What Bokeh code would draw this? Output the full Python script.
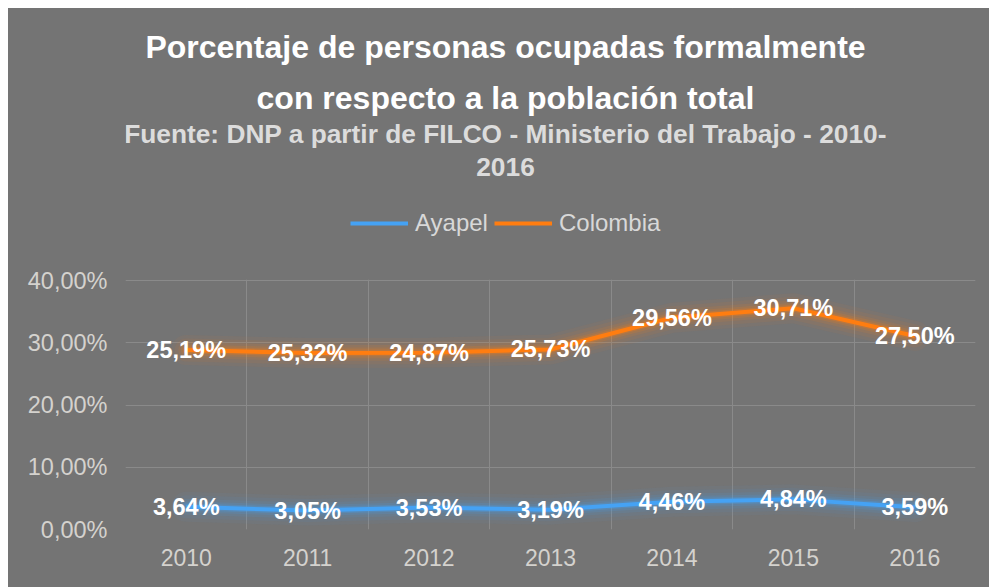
from bokeh.plotting import figure
from bokeh.models import (ColumnDataSource, Range1d, FactorRange, FixedTicker, Label,
                          Legend, LegendItem, CustomJSTickFormatter, BoxAnnotation)
from bokeh.core.properties import value
from bokeh.embed import file_html
from bokeh.resources import INLINE

# ---- data ----
years = ["2010", "2011", "2012", "2013", "2014", "2015", "2016"]
ayapel = [3.64, 3.05, 3.53, 3.19, 4.46, 4.84, 3.59]          # %
colombia = [25.19, 25.32, 24.87, 25.73, 29.56, 30.71, 27.50]  # %
y_ticks = [0.0, 0.10, 0.20, 0.30, 0.40]

title_1 = "Porcentaje de personas ocupadas formalmente"
title_2 = "con respecto a la población total"
sub_1 = "Fuente: DNP a partir de FILCO - Ministerio del Trabajo - 2010-"
sub_2 = "2016"
series_names = ["Ayapel", "Colombia"]

# ---- styles / layout ----
BG = "#747474"
GRID = "#8a8a8a"
TICK = "#d4d2ce"
BLUE = "#45a2f4"
ORANGE = "#ff7d10"
FONT = "Liberation Sans"
W, H = 981, 579
ML, MR, MB = 117, 14, 58
FRAME_H = H - MB          # frame reaches the top of the canvas (titles live inside it)
PLOT_H = 249              # pixel height of the 0..40% value area
Y_TOP = y_ticks[-1] * FRAME_H / PLOT_H


def fmt(v):
    return f"{v:.2f}".replace(".", ",") + "%"


# stacked line chart: Colombia is drawn on top of Ayapel
ay_frac = [a / 100 for a in ayapel]
co_stack = [(a + c) / 100 for a, c in zip(ayapel, colombia)]

src_ay = ColumnDataSource(dict(x=years, y=ay_frac, lab=[fmt(v) for v in ayapel]))
src_co = ColumnDataSource(dict(x=years, y=co_stack, lab=[fmt(v) for v in colombia]))

p = figure(width=W, height=H, x_range=FactorRange(*years), y_range=Range1d(0, Y_TOP),
           output_backend="svg", toolbar_location=None, margin=(8, 0, 0, 8),
           min_border_left=ML, min_border_right=MR, min_border_top=0, min_border_bottom=MB,
           styles={"background-color": BG})
p.background_fill_color = BG
p.border_fill_color = BG
p.outline_line_color = None

p.ygrid.ticker = FixedTicker(ticks=y_ticks[1:])
p.ygrid.grid_line_color = GRID
p.xgrid.ticker = FixedTicker(ticks=list(range(len(years) + 1)))
p.xgrid.grid_line_color = GRID
# hide the category grid lines above the value area (title region)
p.add_layout(BoxAnnotation(bottom=y_ticks[-1] * 1.003, fill_color=BG, fill_alpha=1,
                           line_color=None, level="underlay"))

p.yaxis.ticker = FixedTicker(ticks=y_ticks)
p.yaxis.formatter = CustomJSTickFormatter(
    code="return (tick*100).toFixed(2).replace('.', ',') + '%';")
for ax in (p.xaxis, p.yaxis):
    ax.axis_line_color = None
    ax.major_tick_line_color = None
    ax.minor_tick_line_color = None
    ax.major_tick_in = 0
    ax.major_tick_out = 0
    ax.major_label_text_font = FONT
    ax.major_label_text_color = TICK
p.yaxis.major_label_text_font_size = "23.5px"
p.xaxis.major_label_text_font_size = "23px"
p.yaxis.major_label_standoff = 18
p.xaxis.major_label_standoff = 19

mains = []
for src, col in ((src_ay, BLUE), (src_co, ORANGE)):
    for w, a in ((30, 0.05), (23, 0.07), (16, 0.10), (11, 0.15), (7, 0.25)):
        p.line("x", "y", source=src, line_color=col, line_width=w, line_alpha=a,
               line_join="round", line_cap="round")
    mains.append(p.line("x", "y", source=src, line_color=col, line_width=4, line_join="round"))

for src in (src_ay, src_co):
    p.text("x", "y", text="lab", source=src, text_align="center", text_baseline="middle",
           text_font=value(FONT), text_font_style="bold", text_font_size="23.5px",
           text_color="white")

# titles (screen units from the frame's bottom-left corner)
cx = 380
for txt, y, size, col in ((title_1, 483, "32px", "white"), (title_2, 432, "32px", "white"),
                          (sub_1, 396, "26.3px", "#dcdcdc"), (sub_2, 363, "26.3px", "#dcdcdc")):
    p.add_layout(Label(x=cx, y=y, x_units="screen", y_units="screen", text=txt,
                       text_align="center", text_baseline="alphabetic", text_font=FONT,
                       text_font_size=size, text_font_style="bold", text_color=col))

legend = Legend(items=[LegendItem(label=series_names[0], renderers=[mains[0]]),
                       LegendItem(label=series_names[1], renderers=[mains[1]])],
                orientation="horizontal", location=(225, 292),
                label_text_font=FONT, label_text_font_size="24px", label_text_color="#d8d8d8",
                glyph_width=58, glyph_height=24, label_height=24, label_standoff=7, spacing=6,
                padding=0, margin=0, background_fill_alpha=0, border_line_alpha=0)
p.add_layout(legend)

open("out.html", "w").write(file_html(p, INLINE))
